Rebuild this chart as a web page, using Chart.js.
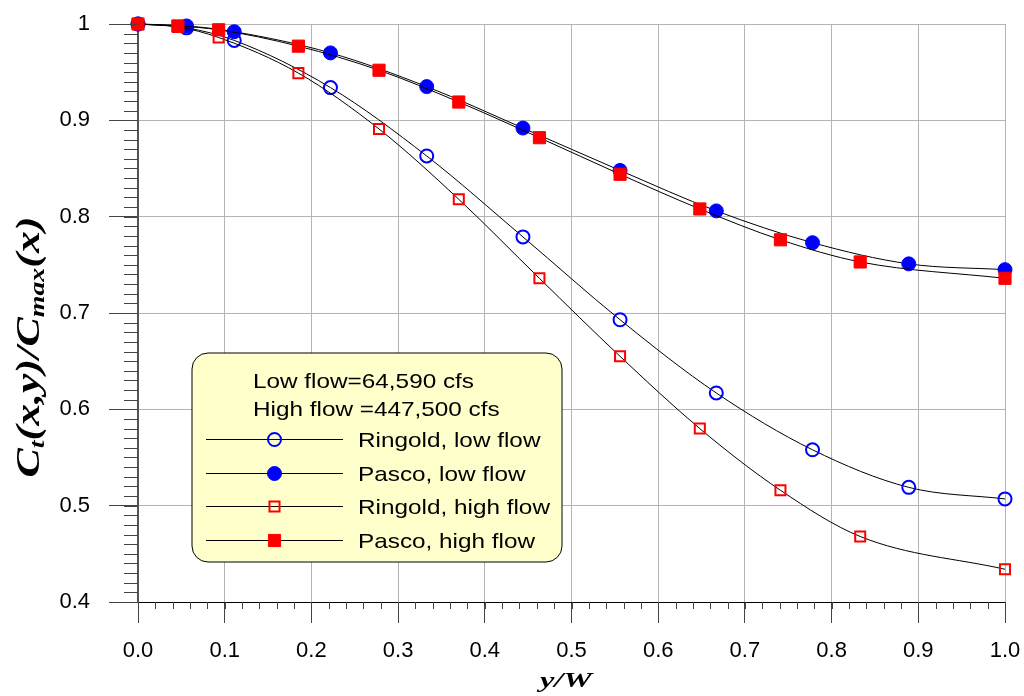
<!DOCTYPE html>
<html>
<head>
<meta charset="utf-8">
<title>Ct/Cmax vs y/W</title>
<script src="https://cdn.jsdelivr.net/npm/chart.js@4.4.0/dist/chart.umd.min.js"></script>
<style>
  html, body { margin: 0; padding: 0; background: #fff; }
  #wrap { width: 1024px; height: 696px; }
</style>
</head>
<body>
<div id="wrap"><canvas id="chart" width="1024" height="696"></canvas></div>
<script>
// x positions (y/W) of the two sampling grids
const xLow  = [0, 0.056, 0.111, 0.222, 0.333, 0.444, 0.556, 0.667, 0.778, 0.889, 1.0];
const xHigh = [0, 0.046, 0.093, 0.185, 0.278, 0.370, 0.463, 0.556, 0.648, 0.741, 0.833, 1.0];

// Ct(x,y)/Cmax(x)
const ringoldLow  = [1.0, 0.996, 0.983, 0.934, 0.863, 0.779, 0.693, 0.617, 0.558, 0.519, 0.507];
const pascoLow    = [1.0, 0.998, 0.992, 0.970, 0.935, 0.892, 0.848, 0.806, 0.773, 0.751, 0.745];
const ringoldHigh = [1.0, 0.997, 0.986, 0.949, 0.891, 0.818, 0.736, 0.655, 0.580, 0.516, 0.468, 0.434];
const pascoHigh   = [1.0, 0.998, 0.994, 0.977, 0.952, 0.919, 0.882, 0.844, 0.808, 0.776, 0.753, 0.736];

const seriesNames = ["Ringold, low flow", "Pasco, low flow", "Ringold, high flow", "Pasco, high flow"];
const legendHeader = ["Low flow=64,590 cfs", "High flow =447,500 cfs"];

const xRange = [0, 1];
const yRange = [0.4, 1];
const xMajor = 0.1, xMinor = 0.02;
const yMajor = 0.1, yMinor = 0.01;

const toPts = (xs, ys) => xs.map((x, i) => ({ x: x, y: ys[i] }));

const BLUE = "#0000ff", RED = "#ff0000";

// minor ticks, titles with subscripts and the boxed legend
const extras = {
    id: "extras",
    afterDraw(chart) {
        const ctx = chart.ctx;
        const xs = chart.scales.x, ys = chart.scales.y;
        const area = chart.chartArea;

        // minor ticks
        ctx.save();
        ctx.strokeStyle = "#444";
        ctx.lineWidth = 1;
        ctx.beginPath();
        for (let v = xRange[0]; v <= xRange[1] + 1e-9; v += xMinor) {
            const px = Math.round(xs.getPixelForValue(v)) + 0.5;
            ctx.moveTo(px, area.bottom);
            ctx.lineTo(px, area.bottom + 7);
        }
        for (let v = yRange[0]; v <= yRange[1] + 1e-9; v += yMinor) {
            const py = Math.round(ys.getPixelForValue(v)) + 0.5;
            ctx.moveTo(area.left - 14, py);
            ctx.lineTo(area.left, py);
        }
        ctx.stroke();
        ctx.restore();

        // y title: Ct(x,y)/Cmax(x)
        const big = "bold italic 33px 'Liberation Serif', 'Times New Roman', serif";
        const small = "bold italic 21px 'Liberation Serif', 'Times New Roman', serif";
        const parts = [["C", big, 0], ["t", small, 5], ["(x,y)/C", big, 0], ["max", small, 5], ["(x)", big, 0]];
        ctx.save();
        let w = 0;
        parts.forEach(p => { ctx.font = p[1]; w += ctx.measureText(p[0]).width; });
        ctx.translate(39, 347);
        ctx.rotate(-Math.PI / 2);
        ctx.scale(261 / w, 1);
        ctx.fillStyle = "#000";
        ctx.textBaseline = "alphabetic";
        let cx = -w / 2;
        parts.forEach(p => {
            ctx.font = p[1];
            ctx.fillText(p[0], cx, p[2]);
            cx += ctx.measureText(p[0]).width;
        });
        ctx.restore();

        // x title: y/W
        ctx.save();
        ctx.font = "bold italic 22px 'Liberation Serif', 'Times New Roman', serif";
        const tw = ctx.measureText("y/W").width;
        ctx.translate(566, 687);
        ctx.scale(52 / tw, 1);
        ctx.fillStyle = "#000";
        ctx.textAlign = "center";
        ctx.fillText("y/W", 0, 0);
        ctx.restore();

        // legend box
        const bx = 192, by = 353, bw = 370, bh = 209, r = 16;
        ctx.save();
        ctx.beginPath();
        ctx.moveTo(bx + r, by);
        ctx.lineTo(bx + bw - r, by);
        ctx.arcTo(bx + bw, by, bx + bw, by + r, r);
        ctx.lineTo(bx + bw, by + bh - r);
        ctx.arcTo(bx + bw, by + bh, bx + bw - r, by + bh, r);
        ctx.lineTo(bx + r, by + bh);
        ctx.arcTo(bx, by + bh, bx, by + bh - r, r);
        ctx.lineTo(bx, by + r);
        ctx.arcTo(bx, by, bx + r, by, r);
        ctx.closePath();
        ctx.fillStyle = "#ffffcc";
        ctx.fill();
        ctx.strokeStyle = "#000";
        ctx.lineWidth = 1;
        ctx.stroke();

        ctx.font = "21px 'Liberation Sans', Arial, sans-serif";
        const sx = 221 / ctx.measureText(legendHeader[0]).width;
        ctx.fillStyle = "#000";
        ctx.textBaseline = "alphabetic";
        const drawText = (t, x, y) => {
            ctx.save();
            ctx.translate(x, y);
            ctx.scale(sx, 1);
            ctx.fillText(t, 0, 0);
            ctx.restore();
        };
        drawText(legendHeader[0], 253, 388);
        drawText(legendHeader[1], 253, 416);

        const baselines = [447, 481, 514, 548];
        chart.data.datasets.forEach((ds, i) => {
            const ly = baselines[i] - 8.5;
            ctx.beginPath();
            ctx.strokeStyle = "#000";
            ctx.lineWidth = 1;
            ctx.moveTo(206, Math.round(ly) + 0.5);
            ctx.lineTo(343, Math.round(ly) + 0.5);
            ctx.stroke();

            ctx.fillStyle = ds.pointBackgroundColor;
            ctx.strokeStyle = ds.pointBorderColor;
            ctx.lineWidth = ds.pointBorderWidth;
            Chart.helpers.drawPoint(ctx, {
                pointStyle: ds.pointStyle,
                radius: ds.pointRadius,
                rotation: 0,
                borderWidth: ds.pointBorderWidth
            }, 274.5, Math.round(ly) + 0.5);

            ctx.fillStyle = "#000";
            drawText(seriesNames[i], 358, baselines[i]);
        });
        ctx.restore();
    }
};

const ctx = document.getElementById("chart").getContext("2d");
new Chart(ctx, {
    type: "line",
    data: {
        datasets: [
            {
                label: seriesNames[0],
                data: toPts(xLow, ringoldLow),
                borderColor: "#000", borderWidth: 1,
                pointStyle: "circle", pointRadius: 6.5,
                pointBorderColor: BLUE, pointBackgroundColor: "rgba(0,0,0,0)", pointBorderWidth: 2,
                cubicInterpolationMode: "monotone", order: 3, clip: false
            },
            {
                label: seriesNames[1],
                data: toPts(xLow, pascoLow),
                borderColor: "#000", borderWidth: 1,
                pointStyle: "circle", pointRadius: 7,
                pointBorderColor: BLUE, pointBackgroundColor: BLUE, pointBorderWidth: 1,
                cubicInterpolationMode: "monotone", order: 2, clip: false
            },
            {
                label: seriesNames[2],
                data: toPts(xHigh, ringoldHigh),
                borderColor: "#000", borderWidth: 1,
                pointStyle: "rect", pointRadius: 7.1,
                pointBorderColor: RED, pointBackgroundColor: "rgba(0,0,0,0)", pointBorderWidth: 2,
                cubicInterpolationMode: "monotone", order: 1, clip: false
            },
            {
                label: seriesNames[3],
                data: toPts(xHigh, pascoHigh),
                borderColor: "#000", borderWidth: 1,
                pointStyle: "rect", pointRadius: 8.6,
                pointBorderColor: RED, pointBackgroundColor: RED, pointBorderWidth: 1,
                cubicInterpolationMode: "monotone", order: 0, clip: false
            }
        ]
    },
    options: {
        responsive: false,
        animation: false,
        devicePixelRatio: 1,
        layout: { padding: { left: 0, top: 24, right: 19, bottom: 0 } },
        plugins: {
            legend: { display: false },
            tooltip: { enabled: false }
        },
        scales: {
            x: {
                type: "linear",
                min: xRange[0], max: xRange[1],
                afterFit: s => { s.height = 94; s.paddingLeft = 0; s.paddingRight = 0; },
                ticks: {
                    stepSize: xMajor,
                    padding: 15,
                    color: "#000",
                    font: { family: "'Liberation Sans', Arial, sans-serif", size: 22 },
                    callback: v => Number(v).toFixed(1)
                },
                grid: { color: "#b4b4b4", lineWidth: 1, tickLength: 21, tickColor: "#444" },
                border: { color: "#000", width: 1 }
            },
            y: {
                type: "linear",
                min: yRange[0], max: yRange[1],
                afterFit: s => { s.width = 138; s.paddingTop = 0; s.paddingBottom = 0; },
                ticks: {
                    stepSize: yMajor,
                    padding: 19,
                    color: "#000",
                    font: { family: "'Liberation Sans', Arial, sans-serif", size: 22 },
                    callback: v => (Math.abs(v - 1) < 1e-9 ? "1" : Number(v).toFixed(1))
                },
                grid: { color: "#b4b4b4", lineWidth: 1, tickLength: 29, tickColor: "#444" },
                border: { color: "#555", width: 2 }
            }
        }
    },
    plugins: [extras]
});
</script>
</body>
</html>
